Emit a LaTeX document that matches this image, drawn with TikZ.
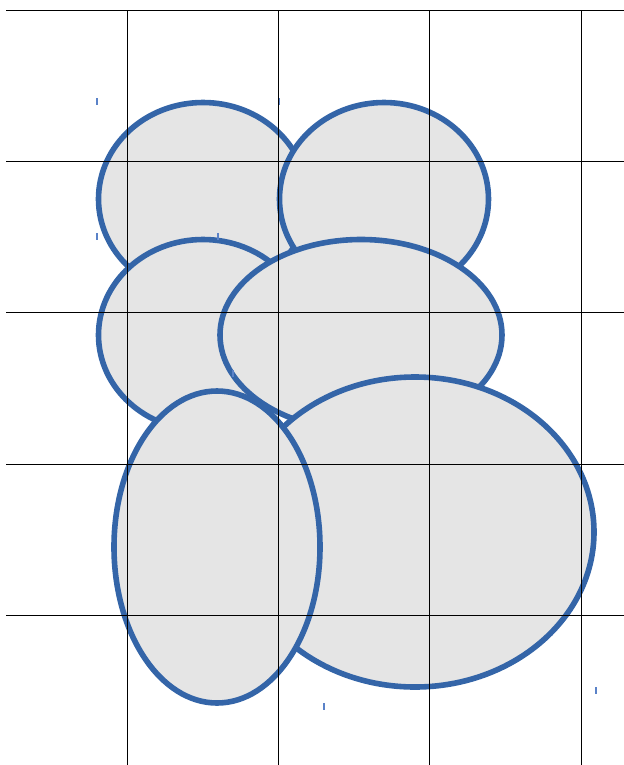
\documentclass[tikz,border=0pt]{standalone}
\usepackage{tikz}
\usetikzlibrary{positioning}
\definecolor{blobblue}{RGB}{52,101,168}
\definecolor{blobfill}{RGB}{229,229,229}
\definecolor{tickblue}{RGB}{90,130,200}

\begin{document}
\begin{tikzpicture}[
    x=0.75pt, y=-0.75pt,
    blob/.style={draw=blobblue, fill=blobfill, line width=4.2pt},
    gridline/.style={draw=black, line width=0.75pt},
    cursor/.style={draw=tickblue, line width=0.8pt}
]

\useasboundingbox (0,0) rectangle (624,765);

% ellipses, back to front
\draw[blob] (203,199) ellipse [x radius=104.5, y radius=96.5];
\draw[blob] (384,199) ellipse [x radius=104.5, y radius=96.5];
\draw[blob] (203,335) ellipse [x radius=104.5, y radius=95.5];
\draw[blob] (361,335) ellipse [x radius=141, y radius=95.5];
\draw[blob] (415,532) ellipse [x radius=179, y radius=155];
\draw[blob] (217,547) ellipse [x radius=103, y radius=156];

% small marks
\foreach \px/\py in {97/98, 97/233, 279/98, 218/233, 233/370, 324/703, 596/687}
    \draw[cursor] (\px,\py) -- ++(0,7);

% grid on top
\foreach \gy in {10,161,312,464,615}
    \draw[gridline] (6,\gy) -- (624,\gy);
\foreach \gx in {127,278,429,581}
    \draw[gridline] (\gx,10) -- (\gx,765);

\end{tikzpicture}
\end{document}
